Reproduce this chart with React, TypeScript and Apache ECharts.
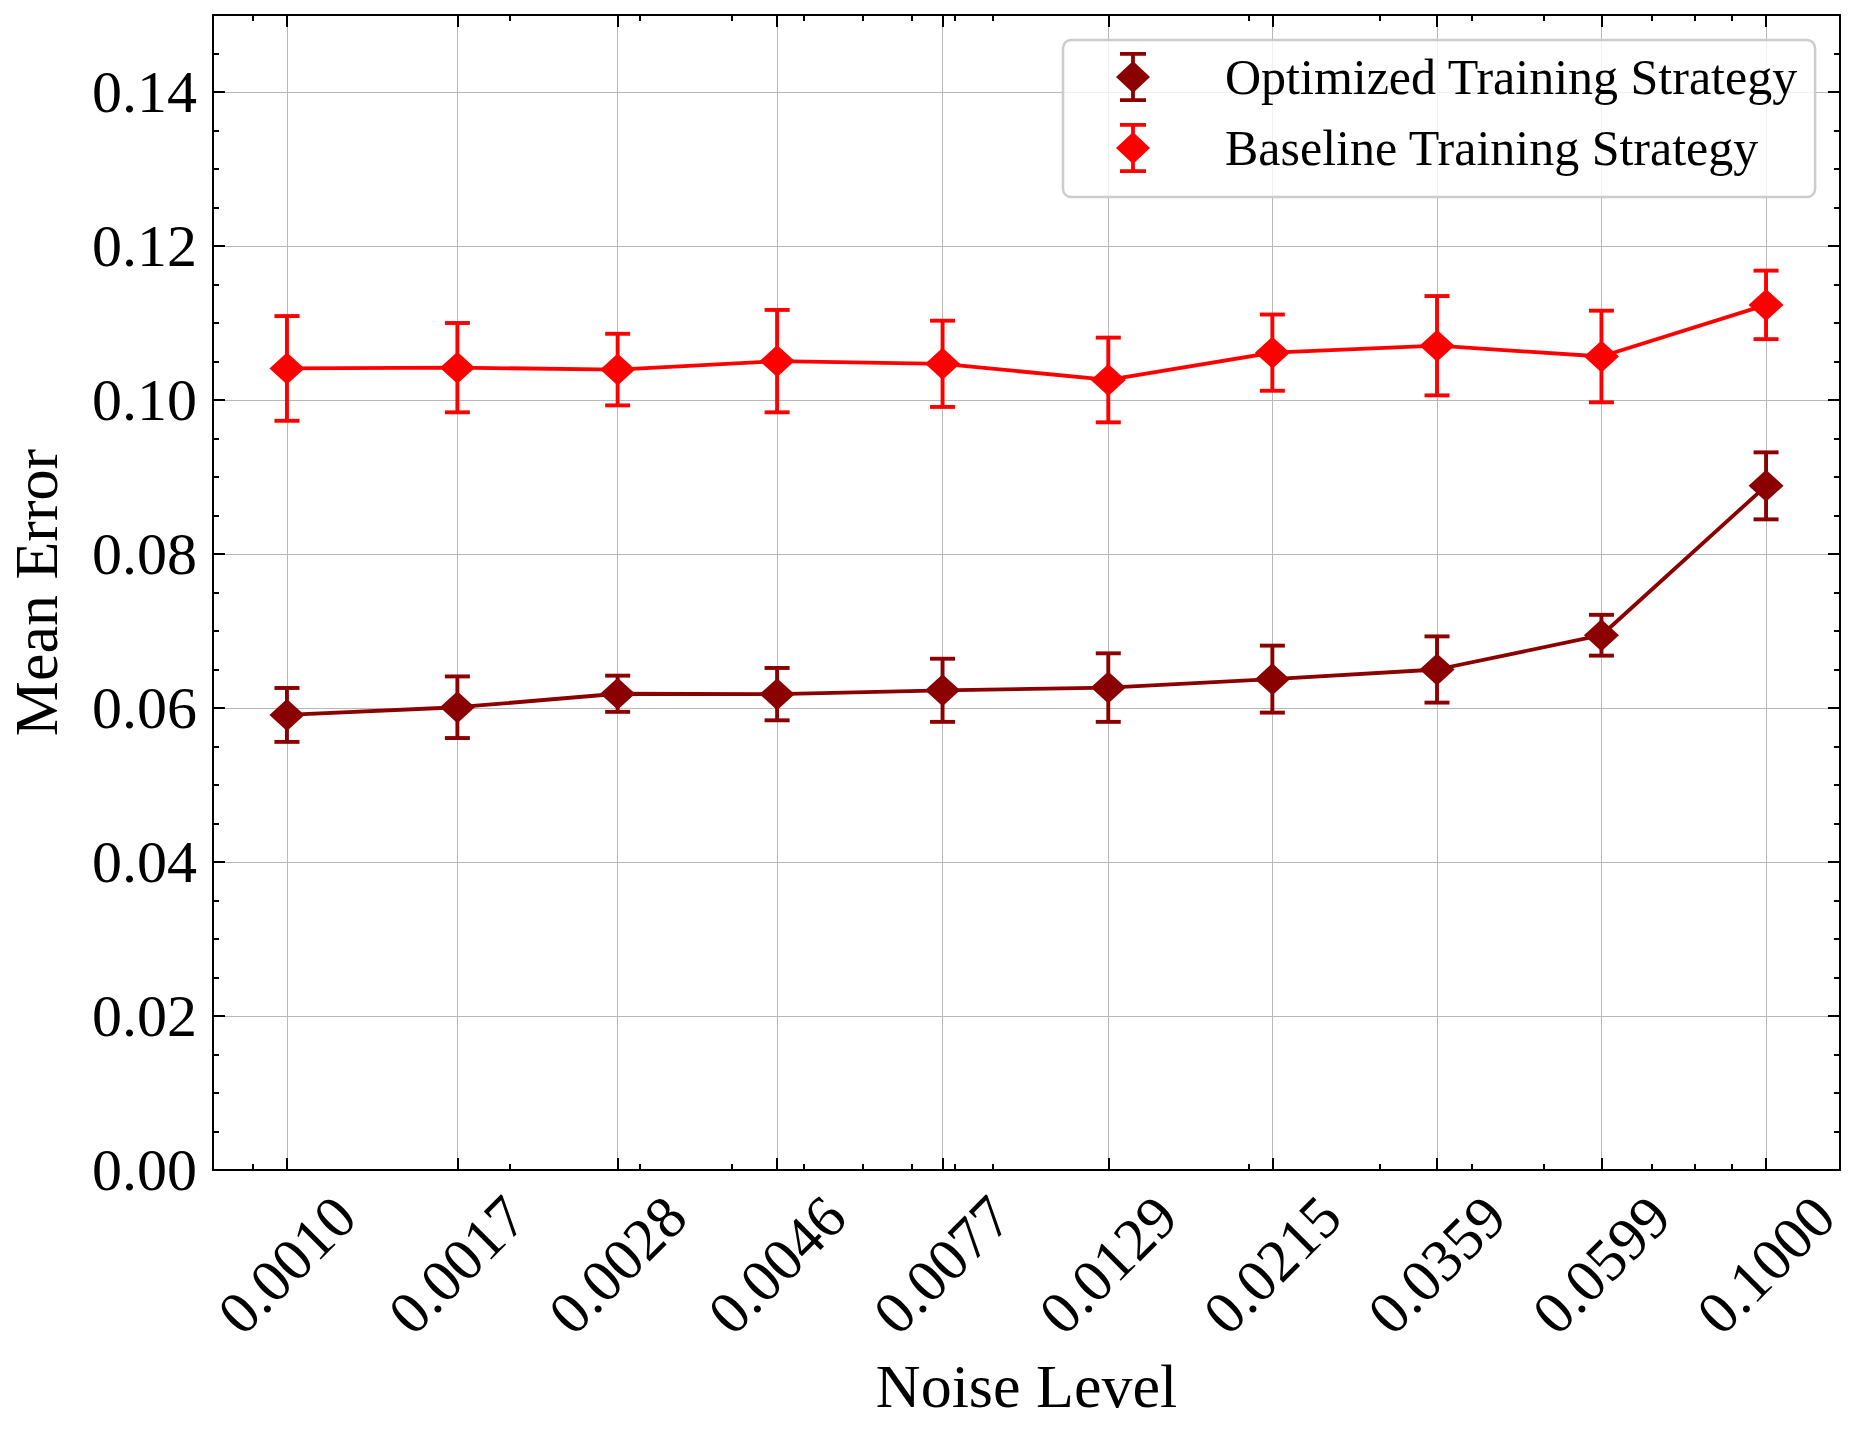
import React, { useEffect, useRef } from "react";
import * as echarts from "echarts";

// ---- data ----
const noiseLevels = [0.001, 0.0017, 0.0028, 0.0046, 0.0077, 0.0129, 0.0215, 0.0359, 0.0599, 0.1];
const optimizedMean = [0.0591, 0.0601, 0.06185, 0.0618, 0.0623, 0.06265, 0.06375, 0.065, 0.06945, 0.08885];
const optimizedErr = [0.0035, 0.004, 0.00235, 0.0034, 0.0041, 0.00445, 0.00435, 0.0043, 0.00265, 0.00435];
const baselineMean = [0.1041, 0.1042, 0.10395, 0.10505, 0.1047, 0.1026, 0.10615, 0.10705, 0.10565, 0.11235];
const baselineErr = [0.0068, 0.0058, 0.00465, 0.00665, 0.0056, 0.0055, 0.00495, 0.00645, 0.00595, 0.00445];
const xMinorTicks = [0.0009, 0.002, 0.003, 0.004, 0.005, 0.006, 0.007, 0.008, 0.009, 0.02, 0.03, 0.04, 0.05, 0.06, 0.07, 0.08, 0.09];
const yMajorTicks = [0, 0.02, 0.04, 0.06, 0.08, 0.1, 0.12, 0.14];
const yMinorTicks = [0.005, 0.01, 0.015, 0.025, 0.03, 0.035, 0.045, 0.05, 0.055, 0.065, 0.07, 0.075, 0.085, 0.09, 0.095, 0.105, 0.11, 0.115, 0.125, 0.13, 0.135, 0.145];
const seriesNames = ["Optimized Training Strategy", "Baseline Training Strategy"];
const seriesColors = ["#8b0000", "#ff0000"];

const FONT = "'Liberation Serif', 'Times New Roman', Times, serif";
const X_MIN = Math.pow(10, -3.1);
const X_MAX = Math.pow(10, -0.9);
const LEGEND_ICON =
  "path://M4,0H30V3.8H4Z M15.1,0H18.9V50H15.1Z M4,46.2H30V50H4Z M17,9L34,25L17,41L0,25Z";

const tickStyle = { color: "#000", width: 2 };

function xAxisDef(position: string, major: boolean, withLabels: boolean) {
  return {
    type: "log",
    logBase: 10,
    gridIndex: 0,
    position,
    min: X_MIN,
    max: X_MAX,
    axisLine: { show: major, onZero: false, lineStyle: { color: "#000", width: 2 } },
    axisTick: {
      show: true,
      inside: true,
      length: major ? 12 : 6,
      customValues: major ? noiseLevels : xMinorTicks,
      lineStyle: tickStyle,
    },
    axisLabel: withLabels
      ? {
          show: true,
          customValues: noiseLevels,
          rotate: 45,
          align: "center",
          verticalAlign: "middle",
          margin: 95,
          fontFamily: FONT,
          fontSize: 60,
          color: "#000",
          formatter: (v: number) => Number(v).toFixed(4),
        }
      : { show: false },
    splitLine: withLabels
      ? { show: true, lineStyle: { color: "#b8b8b8", width: 1 } }
      : { show: false },
    minorTick: { show: false },
    ...(withLabels
      ? {
          name: "Noise Level",
          nameLocation: "middle",
          nameGap: 185,
          nameTextStyle: { fontFamily: FONT, fontSize: 62, color: "#000" },
        }
      : {}),
  };
}

function yAxisDef(position: string, major: boolean, withLabels: boolean) {
  return {
    type: "value",
    gridIndex: 0,
    position,
    min: 0,
    max: 0.15,
    interval: major ? 0.02 : 0.005,
    axisLine: { show: major, onZero: false, lineStyle: { color: "#000", width: 2 } },
    axisTick: {
      show: true,
      inside: true,
      length: major ? 12 : 6,
      customValues: major ? yMajorTicks : yMinorTicks,
      lineStyle: tickStyle,
    },
    axisLabel: withLabels
      ? {
          show: true,
          customValues: yMajorTicks,
          margin: 16,
          fontFamily: FONT,
          fontSize: 60,
          color: "#000",
          formatter: (v: number) => Number(v).toFixed(2),
        }
      : { show: false },
    splitLine: withLabels
      ? { show: true, lineStyle: { color: "#b8b8b8", width: 1 } }
      : { show: false },
    minorTick: { show: false },
    ...(withLabels
      ? {
          name: "Mean Error",
          nameLocation: "middle",
          nameGap: 146,
          nameTextStyle: { fontFamily: FONT, fontSize: 62, color: "#000" },
        }
      : {}),
  };
}

function errorBarSeries(means: number[], errs: number[], color: string, name: string) {
  return {
    type: "custom",
    name,
    xAxisIndex: 0,
    yAxisIndex: 0,
    z: 2,
    silent: true,
    encode: { x: 0, y: [1, 2] },
    data: noiseLevels.map((x, i) => [x, means[i] - errs[i], means[i] + errs[i]]),
    renderItem: (_params: any, api: any) => {
      const x = api.value(0);
      const lo = api.coord([x, api.value(1)]);
      const hi = api.coord([x, api.value(2)]);
      const cap = 12.5;
      const style = { stroke: color, lineWidth: 3.9, fill: null };
      return {
        type: "group",
        children: [
          { type: "line", shape: { x1: lo[0], y1: lo[1], x2: hi[0], y2: hi[1] }, style },
          { type: "line", shape: { x1: hi[0] - cap, y1: hi[1], x2: hi[0] + cap, y2: hi[1] }, style },
          { type: "line", shape: { x1: lo[0] - cap, y1: lo[1], x2: lo[0] + cap, y2: lo[1] }, style },
        ],
      };
    },
  };
}

function lineSeries(means: number[], color: string, name: string) {
  return {
    type: "line",
    name,
    xAxisIndex: 0,
    yAxisIndex: 0,
    z: 3,
    data: noiseLevels.map((x, i) => [x, means[i]]),
    symbol: "diamond",
    symbolSize: [35, 32],
    showSymbol: true,
    itemStyle: { color, borderWidth: 0 },
    lineStyle: { color, width: 3.8 },
    emphasis: { disabled: true },
  };
}

export default function App() {
  const ref = useRef<HTMLDivElement>(null);
  useEffect(() => {
    document.body.style.margin = "0";
    document.body.style.overflow = "hidden";
    if (!ref.current) return;
    const chart = echarts.init(ref.current, null, { renderer: "svg" });
    chart.setOption({
      animation: false,
      backgroundColor: "#ffffff",
      grid: {
        left: 213,
        top: 15,
        right: 21,
        bottom: 265,
        containLabel: false,
        outerBoundsMode: "none",
      },
      legend: {
        show: true,
        orient: "vertical",
        left: 1063,
        top: 40,
        padding: [12, 17, 24, 53],
        itemWidth: 34,
        itemHeight: 50,
        itemGap: 21,
        backgroundColor: "rgba(255,255,255,0.8)",
        borderColor: "#cccccc",
        borderWidth: 2.5,
        borderRadius: 8,
        selectedMode: false,
        itemStyle: { borderWidth: 0 },
        textStyle: {
          fontFamily: FONT,
          fontSize: 50,
          color: "#000",
          padding: [0, 0, 0, 70],
        },
        data: seriesNames.map((n) => ({ name: n, icon: LEGEND_ICON })),
      },
      xAxis: [
        xAxisDef("bottom", true, true),
        xAxisDef("bottom", false, false),
        xAxisDef("top", true, false),
        xAxisDef("top", false, false),
      ],
      yAxis: [
        yAxisDef("left", true, true),
        yAxisDef("left", false, false),
        yAxisDef("right", true, false),
        yAxisDef("right", false, false),
      ],
      series: [
        errorBarSeries(optimizedMean, optimizedErr, seriesColors[0], "opt-err"),
        lineSeries(optimizedMean, seriesColors[0], seriesNames[0]),
        errorBarSeries(baselineMean, baselineErr, seriesColors[1], "base-err"),
        lineSeries(baselineMean, seriesColors[1], seriesNames[1]),
      ],
    });
    return () => chart.dispose();
  }, []);
  return <div ref={ref} style={{ width: 1861, height: 1435 }} />;
}
